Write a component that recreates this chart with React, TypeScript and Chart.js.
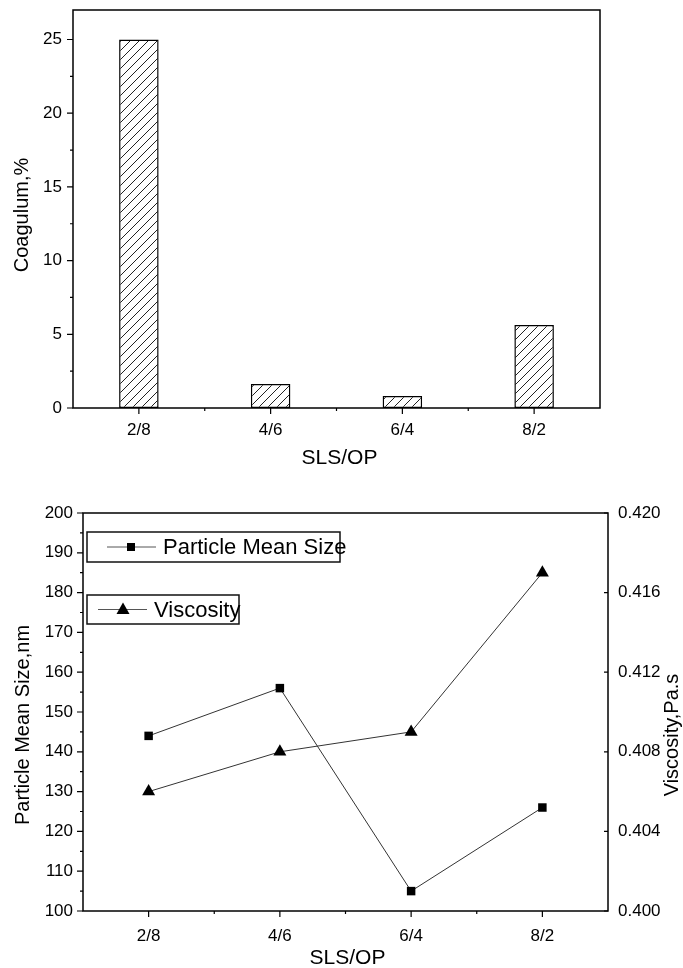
import React, { useEffect, useRef } from 'react';
import { Chart, registerables } from 'chart.js';

Chart.register(...registerables);

const categories = ['2/8', '4/6', '6/4', '8/2'];
const coagulum = [25, 1.63, 0.82, 5.63];
const particleSize = [144, 156, 105, 126];
const viscosity = [0.406, 0.408, 0.409, 0.417];

const coagTicks = [0, 5, 10, 15, 20, 25];
const coagMinorTicks = [2.5, 7.5, 12.5, 17.5, 22.5];
const sizeTicks = [100, 110, 120, 130, 140, 150, 160, 170, 180, 190, 200];
const sizeMinorTicks = [105, 115, 125, 135, 145, 155, 165, 175, 185, 195];
const viscTicks = [0.4, 0.404, 0.408, 0.412, 0.416, 0.42];

const FONT = "'Liberation Sans', Arial, Helvetica, sans-serif";

function makeHatch(ctx: CanvasRenderingContext2D) {
  const s = 9;
  const c = document.createElement('canvas');
  c.width = s;
  c.height = s;
  const g = c.getContext('2d')!;
  g.fillStyle = '#ffffff';
  g.fillRect(0, 0, s, s);
  g.strokeStyle = '#222';
  g.lineWidth = 1;
  g.beginPath();
  g.moveTo(-1, s + 1);
  g.lineTo(s + 1, -1);
  g.moveTo(-1, 1);
  g.lineTo(1, -1);
  g.moveTo(s - 1, s + 1);
  g.lineTo(s + 1, s - 1);
  g.stroke();
  return ctx.createPattern(c, 'repeat')!;
}

const topDecor = {
  id: 'topDecor',
  afterDraw(chart: any) {
    const { ctx, chartArea: a, scales } = chart;
    const x = scales.x;
    const y = scales.y;
    ctx.save();
    ctx.strokeStyle = '#000';
    ctx.lineWidth = 1.5;
    ctx.strokeRect(a.left, a.top, a.right - a.left, a.bottom - a.top);
    ctx.lineWidth = 1.2;
    ctx.beginPath();
    coagTicks.forEach((v) => {
      const p = y.getPixelForValue(v);
      ctx.moveTo(a.left, p);
      ctx.lineTo(a.left - 6, p);
    });
    coagMinorTicks.forEach((v) => {
      const p = y.getPixelForValue(v);
      ctx.moveTo(a.left, p);
      ctx.lineTo(a.left - 3, p);
    });
    categories.forEach((_, i) => {
      const p = x.getPixelForValue(i);
      ctx.moveTo(p, a.bottom);
      ctx.lineTo(p, a.bottom + 6);
    });
    for (let i = 0; i < categories.length - 1; i++) {
      const p = x.getPixelForValue(i + 0.5);
      ctx.moveTo(p, a.bottom);
      ctx.lineTo(p, a.bottom + 3);
    }
    ctx.stroke();

    ctx.fillStyle = '#000';
    ctx.textAlign = 'center';
    ctx.textBaseline = 'middle';
    ctx.font = `21px ${FONT}`;
    ctx.fillText('SLS/OP', (a.left + a.right) / 2 + 3, a.bottom + 50);
    ctx.translate(22, (a.top + a.bottom) / 2 + 6);
    ctx.rotate(-Math.PI / 2);
    ctx.font = `20px ${FONT}`;
    ctx.fillText('Coagulum,%', 0, 0);
    ctx.restore();
  },
};

function drawMarker(ctx: CanvasRenderingContext2D, kind: string, cx: number, cy: number) {
  ctx.fillStyle = '#000';
  ctx.beginPath();
  if (kind === 'rect') {
    ctx.rect(cx - 4, cy - 4, 8, 8);
  } else {
    ctx.moveTo(cx, cy - 7);
    ctx.lineTo(cx + 6.5, cy + 4.5);
    ctx.lineTo(cx - 6.5, cy + 4.5);
    ctx.closePath();
  }
  ctx.fill();
}

const bottomDecor = {
  id: 'bottomDecor',
  afterDraw(chart: any) {
    const { ctx, chartArea: a, scales } = chart;
    const x = scales.x;
    const y = scales.y;
    const y1 = scales.y1;
    ctx.save();
    ctx.strokeStyle = '#000';
    ctx.lineWidth = 1.5;
    ctx.strokeRect(a.left, a.top, a.right - a.left, a.bottom - a.top);
    ctx.lineWidth = 1.2;
    ctx.beginPath();
    sizeTicks.forEach((v) => {
      const p = y.getPixelForValue(v);
      ctx.moveTo(a.left, p);
      ctx.lineTo(a.left - 6, p);
    });
    sizeMinorTicks.forEach((v) => {
      const p = y.getPixelForValue(v);
      ctx.moveTo(a.left, p);
      ctx.lineTo(a.left - 3, p);
    });
    viscTicks.forEach((v) => {
      const p = y1.getPixelForValue(v);
      ctx.moveTo(a.right, p);
      ctx.lineTo(a.right - 4, p);
    });
    categories.forEach((_, i) => {
      const p = x.getPixelForValue(i);
      ctx.moveTo(p, a.bottom);
      ctx.lineTo(p, a.bottom + 6);
    });
    for (let i = 0; i < categories.length - 1; i++) {
      const p = x.getPixelForValue(i + 0.5);
      ctx.moveTo(p, a.bottom);
      ctx.lineTo(p, a.bottom + 3);
    }
    ctx.stroke();

    // legends
    const legends = [
      { label: 'Particle Mean Size', kind: 'rect', bx: 87, by: 52, bw: 253, bh: 30, l0: 107, l1: 156, m: 131, tx: 163 },
      { label: 'Viscosity', kind: 'triangle', bx: 87, by: 115, bw: 152, bh: 29, l0: 98, l1: 147, m: 123, tx: 154 },
    ];
    legends.forEach((L) => {
      ctx.strokeStyle = '#111';
      ctx.lineWidth = 1.5;
      ctx.strokeRect(L.bx, L.by, L.bw, L.bh);
      const cy = L.by + L.bh / 2;
      ctx.strokeStyle = '#555';
      ctx.lineWidth = 1;
      ctx.beginPath();
      ctx.moveTo(L.l0, cy);
      ctx.lineTo(L.l1, cy);
      ctx.stroke();
      drawMarker(ctx, L.kind, L.m, cy);
      ctx.fillStyle = '#000';
      ctx.font = `22px ${FONT}`;
      ctx.textAlign = 'left';
      ctx.textBaseline = 'middle';
      ctx.fillText(L.label, L.tx, cy + 1);
    });

    // titles
    ctx.fillStyle = '#000';
    ctx.textAlign = 'center';
    ctx.textBaseline = 'middle';
    ctx.font = `21px ${FONT}`;
    ctx.fillText('SLS/OP', (a.left + a.right) / 2 + 2, a.bottom + 47);
    ctx.save();
    ctx.translate(23, (a.top + a.bottom) / 2 + 13);
    ctx.rotate(-Math.PI / 2);
    ctx.font = `20px ${FONT}`;
    ctx.fillText('Particle Mean Size,nm', 0, 0);
    ctx.restore();
    ctx.save();
    ctx.translate(672, (a.top + a.bottom) / 2 + 23);
    ctx.rotate(-Math.PI / 2);
    ctx.font = `20px ${FONT}`;
    ctx.fillText('Viscosity,Pa.s', 0, 0);
    ctx.restore();
    ctx.restore();
  },
};

const tickFont = { family: FONT, size: 17 };

function fixVertical(width: number) {
  return (s: any) => {
    s.width = width;
    s.paddingTop = 0;
    s.paddingBottom = 0;
  };
}

function fixHorizontal(height: number) {
  return (s: any) => {
    s.height = height;
    s.paddingLeft = 0;
    s.paddingRight = 0;
  };
}

export default function App() {
  const topRef = useRef<HTMLCanvasElement>(null);
  const botRef = useRef<HTMLCanvasElement>(null);

  useEffect(() => {
    const tctx = topRef.current!.getContext('2d')!;
    const hatch = makeHatch(tctx);
    const top = new Chart(topRef.current!, {
      type: 'bar',
      data: {
        labels: categories,
        datasets: [
          {
            label: 'Coagulum',
            data: coagulum,
            backgroundColor: hatch,
            borderColor: '#000',
            borderWidth: 1.5,
            borderSkipped: false,
            categoryPercentage: 1,
            barPercentage: 0.3,
          },
        ],
      },
      options: {
        animation: false,
        responsive: false,
        layout: { padding: { top: 10, right: 83, left: 0, bottom: 0 } },
        plugins: { legend: { display: false }, tooltip: { enabled: false } },
        scales: {
          x: {
            type: 'category',
            offset: true,
            grid: { display: false, drawTicks: false },
            border: { display: false },
            ticks: { font: tickFont, color: '#000', padding: 12 },
            afterFit: fixHorizontal(72),
          },
          y: {
            min: 0,
            max: 27,
            grid: { display: false, drawTicks: false },
            border: { display: false },
            ticks: { font: tickFont, color: '#000', padding: 11 },
            afterBuildTicks: (s: any) => {
              s.ticks = coagTicks.map((v) => ({ value: v }));
            },
            afterFit: fixVertical(73),
          },
        },
      },
      plugins: [topDecor],
    } as any);

    const bottom = new Chart(botRef.current!, {
      type: 'line',
      data: {
        labels: categories,
        datasets: [
          {
            label: 'Particle Mean Size',
            data: particleSize,
            yAxisID: 'y',
            borderColor: '#333',
            borderWidth: 1,
            pointStyle: 'rect',
            pointRadius: 6,
            pointBackgroundColor: '#000',
            pointBorderColor: '#000',
            pointBorderWidth: 0,
            tension: 0,
          },
          {
            label: 'Viscosity',
            data: viscosity,
            yAxisID: 'y1',
            borderColor: '#333',
            borderWidth: 1,
            pointStyle: 'triangle',
            pointRadius: 7.5,
            pointBackgroundColor: '#000',
            pointBorderColor: '#000',
            pointBorderWidth: 0,
            tension: 0,
          },
        ],
      },
      options: {
        animation: false,
        responsive: false,
        layout: { padding: { top: 33, right: 0, left: 0, bottom: 0 } },
        plugins: { legend: { display: false }, tooltip: { enabled: false } },
        scales: {
          x: {
            type: 'category',
            offset: true,
            grid: { display: false, drawTicks: false },
            border: { display: false },
            ticks: { font: tickFont, color: '#000', padding: 15 },
            afterFit: fixHorizontal(57),
          },
          y: {
            position: 'left',
            min: 100,
            max: 200,
            grid: { display: false, drawTicks: false },
            border: { display: false },
            ticks: { font: tickFont, color: '#000', padding: 10 },
            afterBuildTicks: (s: any) => {
              s.ticks = sizeTicks.map((v) => ({ value: v }));
            },
            afterFit: fixVertical(83),
          },
          y1: {
            position: 'right',
            min: 0.4,
            max: 0.42,
            grid: { display: false, drawTicks: false },
            border: { display: false },
            ticks: {
              font: tickFont,
              color: '#000',
              padding: 10,
              callback: (v: any) => Number(v).toFixed(3),
            },
            afterBuildTicks: (s: any) => {
              s.ticks = viscTicks.map((v) => ({ value: v }));
            },
            afterFit: fixVertical(75),
          },
        },
      },
      plugins: [bottomDecor],
    } as any);

    return () => {
      top.destroy();
      bottom.destroy();
    };
  }, []);

  return (
    <div style={{ position: 'absolute', left: 0, top: 0, width: 683, height: 968, background: '#fff' }}>
      <canvas ref={topRef} width={683} height={480} style={{ position: 'absolute', left: 0, top: 0, width: 683, height: 480 }} />
      <canvas ref={botRef} width={683} height={488} style={{ position: 'absolute', left: 0, top: 480, width: 683, height: 488 }} />
    </div>
  );
}
